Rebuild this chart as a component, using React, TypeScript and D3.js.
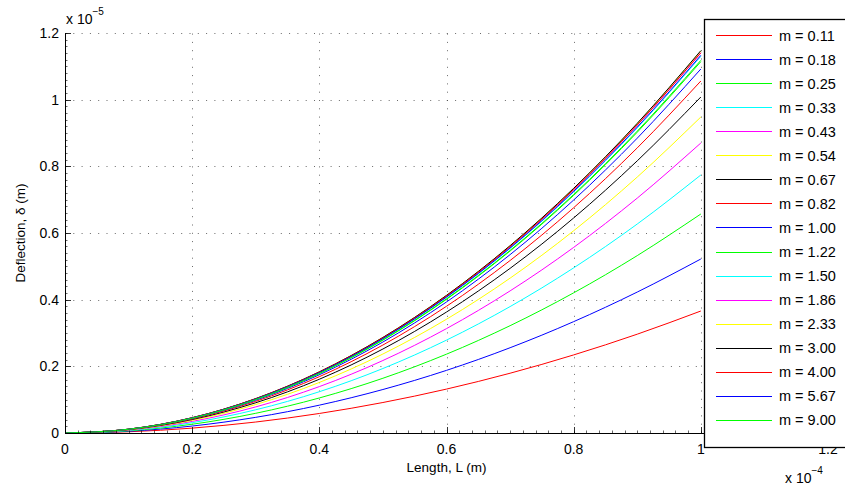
import React from "react";
import * as d3 from "d3";

// Thickness ratios m (legend order)
const mValues = ["0.11","0.18","0.25","0.33","0.43","0.54","0.67","0.82","1.00","1.22","1.50","1.86","2.33","3.00","4.00","5.67","9.00"];
// Deflection at L = 1e-4 m (in units of 1e-5 m)
const tipDeflection = [0.366,0.522,0.657,0.774,0.870,0.948,1.008,1.056,1.092,1.114,1.130,1.140,1.146,1.147,1.141,1.133,1.118];
// Sample lengths (units of 1e-4 m) and normalized deflection profile
const lengths = [0,0.1,0.2,0.3,0.4,0.5,0.6,0.7,0.8,0.9,1.0];
const profile = [0,0.01,0.04,0.09,0.16,0.25,0.36,0.49,0.64,0.81,1.0];
const seriesColors = ["#ff0000","#0000ff","#00ff00","#00ffff","#ff00ff","#ffff00","#000000"];
const xTicks = [0,0.2,0.4,0.6,0.8,1,1.2];
const yTicks = [0,0.2,0.4,0.6,0.8,1,1.2];

export default function App() {
  const W = 845, H = 488;
  const x = d3.scaleLinear().domain([0,1.2]).range([65,828]);
  const y = d3.scaleLinear().domain([0,1.2]).range([433,33]);
  const line = d3.line<[number,number]>().x(d=>x(d[0])).y(d=>y(d[1])).curve(d3.curveMonotoneX);
  const minor = d3.range(0,1.2001,0.02);
  const fmt = (v:number)=> (v===0?"0":v===1?"1":String(Math.round(v*10)/10));
  const font = "'Liberation Sans', Arial, Helvetica, sans-serif";
  const legX = 704, legY = 19, legStep = 24.06;
  const px = (v:number)=> Math.round(v)+0.5;
  return (
    <svg width={W} height={H} style={{position:"absolute",left:0,top:0}} fontFamily={font}>
      <rect width={W} height={H} fill="#fff"/>
      {/* grid */}
      {xTicks.slice(1).map(t=>(
        <line key={"gx"+t} x1={px(x(t))} x2={px(x(t))} y1={y(0)} y2={y(1.2)} stroke="#444" strokeWidth={0.8} strokeDasharray="1,7.3"/>
      ))}
      {yTicks.slice(1).map(t=>(
        <line key={"gy"+t} x1={x(0)} x2={x(1.2)} y1={px(y(t))} y2={px(y(t))} stroke="#444" strokeWidth={0.8} strokeDasharray="1,7.3"/>
      ))}
      {/* curves */}
      {tipDeflection.map((tip,i)=>(
        <path key={"s"+i} d={line(lengths.map((L,j)=>[L, tip*profile[j]]) as [number,number][]) || ""}
          fill="none" stroke={seriesColors[i%7]} strokeWidth={1}/>
      ))}
      {/* axes */}
      <line x1={x(0)} x2={x(1.2)} y1={px(y(0))} y2={px(y(0))} stroke="#000" strokeWidth={1}/>
      <line x1={px(x(0))} x2={px(x(0))} y1={y(0)} y2={y(1.2)} stroke="#000" strokeWidth={1}/>
      {minor.map((t,i)=>(
        <g key={"m"+i}>
          <line x1={px(x(t))} x2={px(x(t))} y1={y(0)} y2={y(0)-2.5} stroke="#000" strokeWidth={0.6}/>
          <line x1={x(0)} x2={x(0)+2.5} y1={px(y(t))} y2={px(y(t))} stroke="#000" strokeWidth={0.6}/>
        </g>
      ))}
      {xTicks.map(t=>(
        <g key={"tx"+t}>
          <line x1={px(x(t))} x2={px(x(t))} y1={y(0)} y2={y(0)-6} stroke="#000" strokeWidth={0.8}/>
          <text x={x(t)} y={454} fontSize={14} textAnchor="middle">{fmt(t)}</text>
        </g>
      ))}
      {yTicks.map(t=>(
        <g key={"ty"+t}>
          <line x1={x(0)} x2={x(0)+6} y1={px(y(t))} y2={px(y(t))} stroke="#000" strokeWidth={0.8}/>
          <text x={59} y={y(t)+5} fontSize={14} textAnchor="end">{fmt(t)}</text>
        </g>
      ))}
      <text x={66} y={24} fontSize={14}>x 10<tspan dy={-9} fontSize={10}>−5</tspan></text>
      <text x={785} y={483} fontSize={14}>x 10<tspan dy={-9} fontSize={10}>−4</tspan></text>
      <text x={446.5} y={472} fontSize={13.5} textAnchor="middle">Length, L (m)</text>
      <text transform={`translate(25,233) rotate(-90)`} fontSize={13.5} textAnchor="middle">Deflection, δ (m)</text>
      {/* legend */}
      <rect x={legX+0.5} y={legY+0.5} width={150} height={428} fill="#fff" stroke="#000" strokeWidth={1.3}/>
      {mValues.map((m,i)=>{
        const ly = 35 + i*legStep;
        return (
          <g key={"l"+i}>
            <line x1={716} x2={772} y1={px(ly)} y2={px(ly)} stroke={seriesColors[i%7]} strokeWidth={1}/>
            <text x={779} y={ly+5.5} fontSize={14.5}>m = {m}</text>
          </g>
        );
      })}
    </svg>
  );
}
